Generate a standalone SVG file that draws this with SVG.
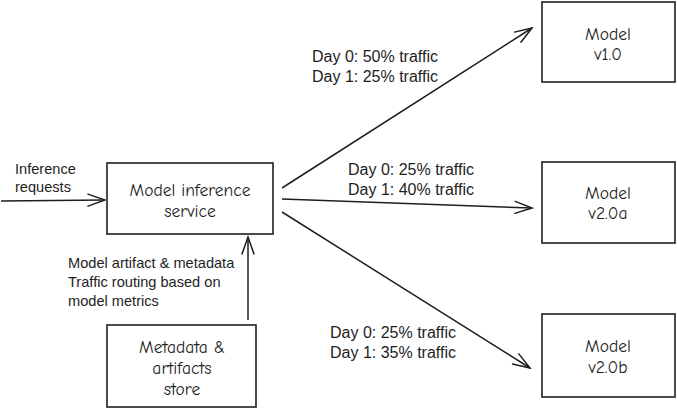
<svg xmlns="http://www.w3.org/2000/svg" width="677" height="410" viewBox="0 0 677 410">
<defs>
<marker id="ah" markerWidth="20" markerHeight="14" refX="18" refY="7" orient="auto" markerUnits="userSpaceOnUse">
<path d="M1,1 L18,7 L1,13" fill="none" stroke="#1e1e1e" stroke-width="1.5" stroke-linecap="round"/>
</marker>
<style>
.box{fill:#ffffff;stroke:#1e1e1e;stroke-width:1.6}
.hand{font-family:"Comic Neue","DejaVu Sans",sans-serif;font-size:17.5px;fill:#1e1e1e;text-anchor:middle}
.lbl{font-family:"Liberation Sans",Arial,sans-serif;font-size:14.6px;fill:#1e1e1e}
.day{font-size:16px}
.edge{stroke:#1e1e1e;stroke-width:1.5;fill:none;marker-end:url(#ah)}
</style>
</defs>
<rect width="677" height="410" fill="#ffffff"/>
<g id="connectors">
<path class="edge" d="M1,201 L105,200"/>
<path class="edge" d="M248,320 L248,237"/>
<path class="edge" d="M282,188 L532,28"/>
<path class="edge" d="M282,199 L532,208"/>
<path class="edge" d="M282,212 L530,368"/>
</g>
<g id="lbl-in"><text class="lbl" x="15" y="174">Inference</text><text class="lbl" x="15" y="192">requests</text></g>
<g id="lbl-meta"><text class="lbl" x="68" y="268">Model artifact &amp; metadata</text><text class="lbl" x="68" y="287">Traffic routing based on</text><text class="lbl" x="68" y="306">model metrics</text></g>
<g id="lbl-v1"><text class="lbl day" x="312" y="62">Day 0: 50% traffic</text><text class="lbl day" x="312" y="82">Day 1: 25% traffic</text></g>
<g id="lbl-v2a"><text class="lbl day" x="348" y="175">Day 0: 25% traffic</text><text class="lbl day" x="348" y="195">Day 1: 40% traffic</text></g>
<g id="lbl-v2b"><text class="lbl day" x="330" y="338">Day 0: 25% traffic</text><text class="lbl day" x="330" y="358">Day 1: 35% traffic</text></g>
<g id="inference"><rect class="box" x="107" y="163" width="166" height="71"/><text class="hand" x="190" y="196">Model inference</text><text class="hand" x="190" y="217">service</text></g>
<g id="v1"><rect class="box" x="542" y="2" width="133" height="80"/><text class="hand" x="608" y="40">Model</text><text class="hand" x="608" y="60">v1.0</text></g>
<g id="v2a"><rect class="box" x="542" y="162" width="133" height="81"/><text class="hand" x="608" y="199">Model</text><text class="hand" x="608" y="219">v2.0a</text></g>
<g id="v2b"><rect class="box" x="542" y="314" width="133" height="83"/><text class="hand" x="608" y="352">Model</text><text class="hand" x="608" y="373">v2.0b</text></g>
<g id="store"><rect class="box" x="107" y="325" width="149" height="82"/><text class="hand" x="182" y="353">Metadata &amp;</text><text class="hand" x="182" y="374">artifacts</text><text class="hand" x="182" y="395">store</text></g>
</svg>
